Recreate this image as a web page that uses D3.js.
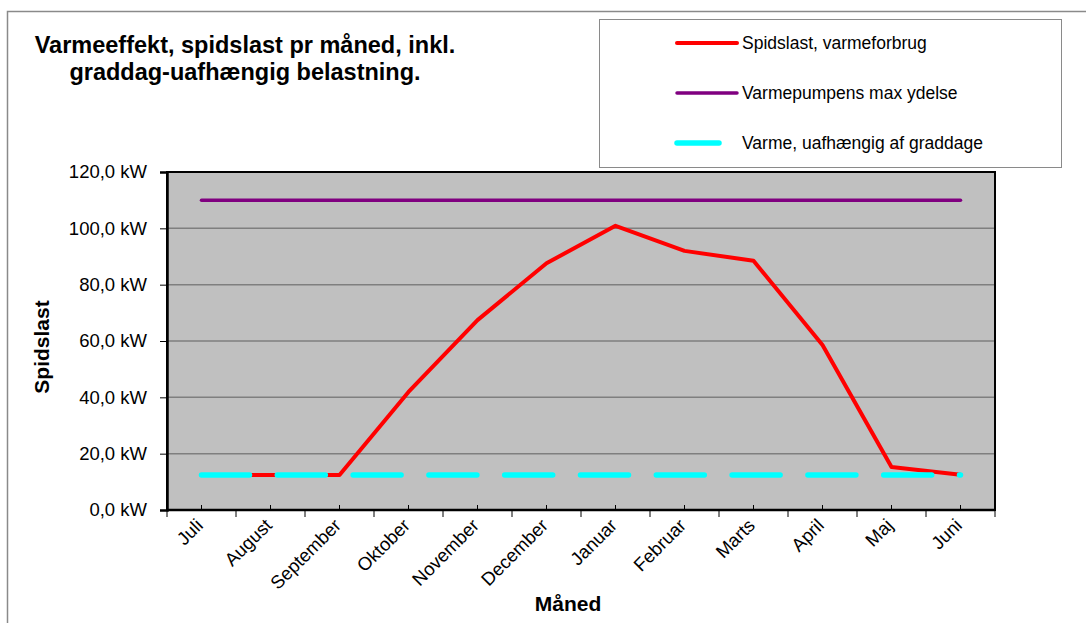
<!DOCTYPE html>
<html>
<head>
<meta charset="utf-8">
<script src="https://cdn.jsdelivr.net/npm/d3@7"></script>
<style>
  body { margin: 0; background: #fff; }
  text { font-family: Arial, "Liberation Sans", sans-serif; }
</style>
</head>
<body>
<div id="chart"></div>
<script>
// data
let months = ["Juli", "August", "September", "Oktober", "November", "December",
              "Januar", "Februar", "Marts", "April", "Maj", "Juni"];
let spidslast = [12.4, 12.4, 12.4, 41.9, 67.4, 87.6, 100.9, 92.0, 88.5, 58.6, 15.3, 12.5];
let maxYdelse = [110, 110, 110, 110, 110, 110, 110, 110, 110, 110, 110, 110];
let uafhaengig = [12.4, 12.4, 12.4, 12.4, 12.4, 12.4, 12.4, 12.4, 12.4, 12.4, 12.4, 12.4];
let yTicks = [0, 20, 40, 60, 80, 100, 120];

let seriesNames = ["Spidslast, varmeforbrug", "Varmepumpens max ydelse", "Varme, uafhængig af graddage"];

let width = 1086;
let height = 623;

let plot = { left: 167, top: 172, right: 995, bottom: 510 };

let svg = d3.select("#chart")
    .append("svg")
    .attr("width", width)
    .attr("height", height);

// outer chart frame (only top/left visible in the reference)
svg.append("path")
    .attr("d", "M7.5," + height + "V11.5H" + width)
    .attr("fill", "none")
    .attr("stroke", "#8a8a8a")
    .attr("stroke-width", 1.5);

// title
let title = svg.append("text")
    .attr("text-anchor", "middle")
    .style("font-weight", "bold")
    .style("font-size", "23.5px")
    .attr("fill", "#000");
title.append("tspan").attr("x", 245).attr("y", 53).text("Varmeeffekt, spidslast pr måned, inkl.");
title.append("tspan").attr("x", 245).attr("y", 80).text("graddag-uafhængig belastning.");

// scales
let x = d3.scaleBand()
    .domain(months)
    .range([plot.left, plot.right])
    .padding(0);

function xc(d) { return x(d) + x.bandwidth() / 2; }

let y = d3.scaleLinear()
    .domain([0, 120])
    .range([plot.bottom, plot.top]);

// plot background
svg.append("rect")
    .attr("x", plot.left)
    .attr("y", plot.top)
    .attr("width", plot.right - plot.left)
    .attr("height", plot.bottom - plot.top)
    .attr("fill", "#c0c0c0");

// grid lines
svg.append("g")
    .selectAll("line")
    .data(yTicks.slice(1, -1))
    .enter()
    .append("line")
    .attr("x1", plot.left)
    .attr("x2", plot.right)
    .attr("y1", d => y(d))
    .attr("y2", d => y(d))
    .attr("stroke", "#7f7f7f")
    .attr("stroke-width", 1.5);

// plot frame
svg.append("rect")
    .attr("x", plot.left)
    .attr("y", plot.top)
    .attr("width", plot.right - plot.left)
    .attr("height", plot.bottom - plot.top)
    .attr("fill", "none")
    .attr("stroke", "#000")
    .attr("stroke-width", 2);

// y axis
let yAxis = d3.axisLeft(y)
    .tickValues(yTicks)
    .tickSize(7)
    .tickPadding(13)
    .tickFormat(d => d3.format(".1f")(d).replace(".", ",") + " kW");

let yg = svg.append("g")
    .attr("transform", "translate(" + plot.left + ",0)")
    .call(yAxis);
yg.select(".domain").attr("stroke", "#000").attr("stroke-width", 2.5);
yg.selectAll(".tick line").attr("stroke", "#000").attr("stroke-width", 1);
yg.selectAll(".tick text")
    .style("font-size", "18.5px")
    .attr("fill", "#000");

// x axis: outer ticks at band edges, inner ticks at centers
let xg = svg.append("g");
let edges = months.map(d => x(d)).concat([plot.right]);
xg.selectAll("line.edge")
    .data(edges)
    .enter()
    .append("line")
    .attr("class", "edge")
    .attr("x1", d => d).attr("x2", d => d)
    .attr("y1", plot.bottom).attr("y2", plot.bottom + 7)
    .attr("stroke", "#000");
xg.selectAll("line.mid")
    .data(months)
    .enter()
    .append("line")
    .attr("class", "mid")
    .attr("x1", d => xc(d)).attr("x2", d => xc(d))
    .attr("y1", plot.bottom).attr("y2", plot.bottom - 5)
    .attr("stroke", "#000");
xg.append("line")
    .attr("x1", plot.left).attr("x2", plot.right)
    .attr("y1", plot.bottom).attr("y2", plot.bottom)
    .attr("stroke", "#000")
    .attr("stroke-width", 2.5);

xg.selectAll("text")
    .data(months)
    .enter()
    .append("text")
    .attr("transform", d => "translate(" + (xc(d) - 2) + "," + (plot.bottom + 12) + ") rotate(-45)")
    .attr("text-anchor", "end")
    .attr("dy", "0.35em")
    .style("font-size", "18.5px")
    .attr("fill", "#000")
    .text(d => d);

// axis titles
svg.append("text")
    .attr("x", 568)
    .attr("y", 611)
    .attr("text-anchor", "middle")
    .style("font-weight", "bold")
    .style("font-size", "21px")
    .text("Måned");

svg.append("text")
    .attr("transform", "translate(49," + ((plot.top + plot.bottom) / 2 + 6) + ") rotate(-90)")
    .attr("text-anchor", "middle")
    .style("font-weight", "bold")
    .style("font-size", "21px")
    .text("Spidslast");

// series lines
let line = d3.line()
    .x((d, i) => xc(months[i]))
    .y(d => y(d));

svg.append("path")
    .datum(spidslast)
    .attr("d", line)
    .attr("fill", "none")
    .attr("stroke", "#ff0000")
    .attr("stroke-width", 4)
    .attr("stroke-linejoin", "round");

svg.append("path")
    .datum(maxYdelse)
    .attr("d", line)
    .attr("fill", "none")
    .attr("stroke", "#800080")
    .attr("stroke-width", 3.5)
    .attr("stroke-linecap", "round");

svg.append("path")
    .datum(uafhaengig)
    .attr("d", line)
    .attr("fill", "none")
    .attr("stroke", "#00ffff")
    .attr("stroke-width", 5.5)
    .attr("stroke-linecap", "round")
    .attr("stroke-dasharray", "48 27.8");

// legend
let legend = svg.append("g");
legend.append("rect")
    .attr("x", 599.5)
    .attr("y", 19.5)
    .attr("width", 462)
    .attr("height", 148)
    .attr("fill", "#fff")
    .attr("stroke", "#8a8a8a")
    .attr("stroke-width", 1);

let legendColors = ["#ff0000", "#800080", "#00ffff"];
let legendWidths = [4, 3.5, 5.5];
let legendLen = [60, 60, 42];

legend.selectAll("line")
    .data(seriesNames)
    .enter()
    .append("line")
    .attr("x1", 677)
    .attr("x2", (d, i) => 677 + legendLen[i])
    .attr("y1", (d, i) => 43 + i * 50)
    .attr("y2", (d, i) => 43 + i * 50)
    .attr("stroke", (d, i) => legendColors[i])
    .attr("stroke-width", (d, i) => legendWidths[i])
    .attr("stroke-linecap", "round");

legend.selectAll("text")
    .data(seriesNames)
    .enter()
    .append("text")
    .attr("x", 742)
    .attr("y", (d, i) => 43 + i * 50)
    .attr("dy", "0.35em")
    .style("font-size", "17.5px")
    .attr("fill", "#000")
    .text(d => d);
</script>
</body>
</html>
